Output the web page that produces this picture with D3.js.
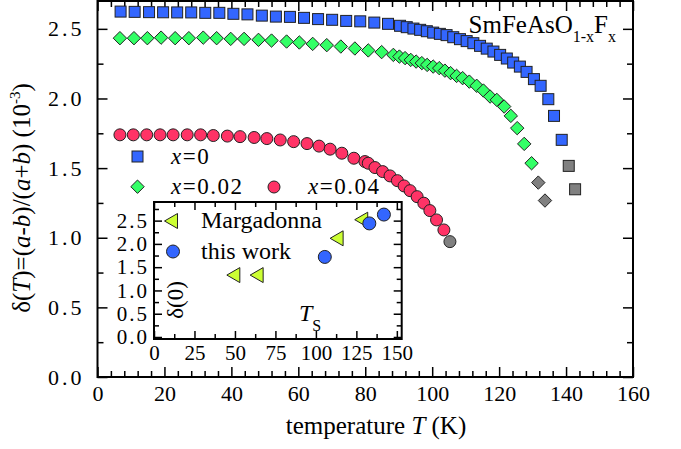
<!DOCTYPE html>
<html>
<head>
<meta charset="utf-8">
<script src="https://d3js.org/d3.v7.min.js"></script>
<style>
  body { margin: 0; background: #fff; }
  svg { font-family: 'Liberation Serif', 'Times New Roman', serif; background: #fff; }
  .axis line { stroke: #000; stroke-width: 1.5px; }
  .axis path { display: none; }
</style>
</head>
<body>
<svg width="681" height="449"></svg>
<script>
// x = 0 (squares)
const x0T = [6.9, 11.1, 15.4, 19.6, 23.8, 28.0, 32.2, 36.4, 40.6, 44.8, 49.1, 53.3, 57.5, 61.7, 65.9, 70.1, 74.3, 78.5, 82.7, 86.8,
  90.4, 92.4, 94.4, 96.4, 98.4, 100.3, 102.3, 104.3, 106.3, 108.3, 110.3, 112.3, 114.3, 116.3, 118.3, 120.3, 122.3, 124.2, 126.2, 128.2,
  130.4, 132.4, 134.7, 136.4, 138.7];
const x0D = [2.624, 2.622, 2.620, 2.619, 2.618, 2.618, 2.615, 2.615, 2.608, 2.604, 2.595, 2.588, 2.586, 2.579, 2.570, 2.565, 2.557, 2.554, 2.545, 2.536,
  2.522, 2.512, 2.502, 2.493, 2.483, 2.473, 2.464, 2.455, 2.440, 2.426, 2.412, 2.397, 2.378, 2.358, 2.337, 2.313, 2.287, 2.258, 2.229, 2.191,
  2.139, 2.091, 1.995, 1.875, 1.703];
const x0TGray = [140.8, 142.7];
const x0DGray = [1.516, 1.348];

// x = 0.02 (diamonds)
const x2T = [6.7, 10.9, 14.9, 19.0, 23.2, 27.3, 31.6, 35.6, 39.8, 43.8, 48.1, 52.0, 56.5, 60.3, 64.3, 68.5, 72.7, 76.9, 80.9, 84.9,
  88.4, 90.2, 91.9, 93.6, 95.2, 96.9, 98.5, 100.3, 102.1, 103.8, 105.5, 107.3, 109.1, 111.1, 113.3, 115.3, 117.3, 119.3, 121.5, 123.5,
  125.4, 127.5, 129.7];
const x2D = [2.433, 2.433, 2.433, 2.437, 2.433, 2.433, 2.437, 2.433, 2.428, 2.428, 2.421, 2.416, 2.409, 2.402, 2.392, 2.383, 2.373, 2.359, 2.345, 2.333,
  2.313, 2.301, 2.290, 2.277, 2.265, 2.254, 2.241, 2.229, 2.218, 2.200, 2.182, 2.162, 2.146, 2.121, 2.091, 2.057, 2.014, 1.990, 1.942, 1.875,
  1.787, 1.674, 1.535];
const x2TGray = [131.7, 133.7];
const x2DGray = [1.396, 1.267];

// x = 0.04 (circles)
const x4T = [6.7, 10.7, 14.7, 18.7, 22.6, 26.8, 30.8, 34.6, 38.8, 42.6, 46.8, 50.6, 54.6, 58.6, 62.6, 66.2, 69.5, 73.0, 76.6, 79.9,
  80.9, 82.9, 85.2, 87.4, 89.6, 91.6, 93.4, 95.5, 97.5, 99.3, 101.3, 103.5];
const x4D = [1.739, 1.739, 1.739, 1.739, 1.739, 1.739, 1.739, 1.734, 1.730, 1.726, 1.720, 1.712, 1.702, 1.690, 1.676, 1.658, 1.636, 1.607, 1.571, 1.547,
  1.535, 1.504, 1.475, 1.444, 1.410, 1.372, 1.338, 1.295, 1.248, 1.195, 1.128, 1.056];
const x4TGray = [105.3];
const x4DGray = [0.972];

// inset: delta(0) vs T_S
const margTs = [49, 63.4, 112.8, 128];
const margD0 = [1.33, 1.33, 2.12, 2.52];
const ourTs = [105.5, 133, 142];
const ourD0 = [1.72, 2.44, 2.63];

const xMajor = [0, 20, 40, 60, 80, 100, 120, 140, 160];
const yMajor = [0, 0.5, 1.0, 1.5, 2.0, 2.5];
const insetXMajor = [0, 25, 50, 75, 100, 125, 150];
const insetYMajor = [0, 0.5, 1.0, 1.5, 2.0, 2.5];

const blue = "#3366ff", green = "#33ff66", red = "#ff3366", gray = "#808080", lime = "#ccff33";
const serif = "'Liberation Serif', 'Times New Roman', serif";

const svg = d3.select("svg");

const x = d3.scaleLinear().domain([0, 160]).range([97.5, 633]);
const y = d3.scaleLinear().domain([0, 2.7]).range([377, 1]);

function drawAxes(g, xs, ys, xMaj, xMin, yMaj, yMin, xFmt, yFmt, big, small, fs, pad, ypad, yspace) {
  const [x0, x1] = xs.range(), [y0, y1] = ys.range();
  const add = (tr, ax) => g.append("g").attr("class", "axis").attr("transform", tr).call(ax)
    .attr("font-family", serif).attr("font-size", fs);
  add("translate(0," + y0 + ")", d3.axisBottom(xs).tickValues(xMaj).tickSize(-big).tickPadding(pad).tickFormat(xFmt));
  add("translate(0," + y0 + ")", d3.axisBottom(xs).tickValues(xMin).tickSize(-small).tickFormat(""));
  add("translate(0," + y1 + ")", d3.axisTop(xs).tickValues(xMaj).tickSize(-big).tickFormat(""));
  add("translate(0," + y1 + ")", d3.axisTop(xs).tickValues(xMin).tickSize(-small).tickFormat(""));
  add("translate(" + x0 + ",0)", d3.axisLeft(ys).tickValues(yMaj).tickSize(-big).tickPadding(ypad).tickFormat(yFmt))
    .selectAll("text").attr("letter-spacing", yspace);
  add("translate(" + x0 + ",0)", d3.axisLeft(ys).tickValues(yMin).tickSize(-small).tickFormat(""));
  add("translate(" + x1 + ",0)", d3.axisRight(ys).tickValues(yMaj).tickSize(-big).tickFormat(""));
  add("translate(" + x1 + ",0)", d3.axisRight(ys).tickValues(yMin).tickSize(-small).tickFormat(""));
  g.append("rect").attr("x", x0).attr("y", y1).attr("width", x1 - x0).attr("height", y0 - y1)
    .attr("fill", "none").attr("stroke", "#000").attr("stroke-width", 2);
}

// main axes
drawAxes(svg.append("g"), x, y, xMajor, d3.range(0, 161, 4).filter(v => v % 20), yMajor,
  [0.25, 0.75, 1.25, 1.75, 2.25], d3.format("d"), d3.format(".1f"), 10, 6, 22, 8, 13, 3);

// markers
function squares(g, ts, ds, fill) {
  g.selectAll(null).data(d3.zip(ts, ds)).enter().append("rect")
    .attr("x", d => x(d[0]) - 5.5).attr("y", d => y(d[1]) - 5.5)
    .attr("width", 11).attr("height", 11)
    .attr("fill", fill).attr("stroke", "#222").attr("stroke-width", 1);
}
function diamonds(g, ts, ds, fill) {
  g.selectAll(null).data(d3.zip(ts, ds)).enter().append("path")
    .attr("d", d => "M" + x(d[0]) + "," + (y(d[1]) - 6.7) + "l6.7,6.7l-6.7,6.7l-6.7,-6.7z")
    .attr("fill", fill).attr("stroke", "#222").attr("stroke-width", 1);
}
function circles(g, xs, ys, ts, ds, fill, r) {
  g.selectAll(null).data(d3.zip(ts, ds)).enter().append("circle")
    .attr("cx", d => xs(d[0])).attr("cy", d => ys(d[1])).attr("r", r)
    .attr("fill", fill).attr("stroke", "#222").attr("stroke-width", 1);
}

const marks = svg.append("g");
squares(marks, x0T, x0D, blue);
squares(marks, x0TGray, x0DGray, gray);
diamonds(marks, x2T, x2D, green);
diamonds(marks, x2TGray, x2DGray, gray);
circles(marks, x, y, x4T, x4D, red, 6);
circles(marks, x, y, x4TGray, x4DGray, gray, 6);

// legend
const leg = svg.append("g").attr("font-size", 23).attr("letter-spacing", 1.5);
leg.append("rect").attr("x", 132).attr("y", 151).attr("width", 11).attr("height", 11)
  .attr("fill", blue).attr("stroke", "#222");
leg.append("path").attr("d", "M137.5,180l6.7,6.7l-6.7,6.7l-6.7,-6.7z").attr("fill", green).attr("stroke", "#222");
leg.append("circle").attr("cx", 274).attr("cy", 187).attr("r", 6).attr("fill", red).attr("stroke", "#222");
function legText(xp, yp, val) {
  const t = leg.append("text").attr("x", xp).attr("y", yp);
  t.append("tspan").attr("font-style", "italic").text("x");
  t.append("tspan").text("=" + val);
}
legText(171, 164, "0");
legText(171, 194, "0.02");
legText(308, 194, "0.04");

// title
const title = svg.append("text").attr("x", 616).attr("y", 33).attr("text-anchor", "end").attr("font-size", 25);
title.append("tspan").text("SmFeAsO");
title.append("tspan").attr("font-size", 16).attr("dy", 9).text("1-x");
title.append("tspan").attr("dy", -9).text("F");
title.append("tspan").attr("font-size", 16).attr("dy", 9).text("x");

// axis titles
const xt = svg.append("text").attr("x", 376).attr("y", 434).attr("text-anchor", "middle").attr("font-size", 25);
xt.append("tspan").text("temperature ");
xt.append("tspan").attr("font-style", "italic").text("T");
xt.append("tspan").text(" (K)");

const yt = svg.append("text").attr("transform", "translate(30,198) rotate(-90)")
  .attr("text-anchor", "middle").attr("font-size", 25);
yt.append("tspan").text("\u03b4(");
yt.append("tspan").attr("font-style", "italic").text("T");
yt.append("tspan").text(")=(");
yt.append("tspan").attr("font-style", "italic").text("a");
yt.append("tspan").text("-");
yt.append("tspan").attr("font-style", "italic").text("b");
yt.append("tspan").text(")/(");
yt.append("tspan").attr("font-style", "italic").text("a");
yt.append("tspan").text("+");
yt.append("tspan").attr("font-style", "italic").text("b");
yt.append("tspan").text(") (10");
yt.append("tspan").attr("font-size", 15).attr("dy", -10).text("-3");
yt.append("tspan").attr("dy", 10).text(")");

// inset
const inset = svg.append("g").attr("class", "inset");
const ix = d3.scaleLinear().domain([0, 153]).range([154, 401.7]);
const iy = d3.scaleLinear().domain([-0.043, 2.9]).range([339, 202]);
inset.append("rect").attr("x", 154).attr("y", 202).attr("width", 247.7).attr("height", 137).attr("fill", "#fff");
drawAxes(inset, ix, iy, insetXMajor, [12.5, 37.5, 62.5, 87.5, 112.5, 137.5], insetYMajor,
  [0.25, 0.75, 1.25, 1.75, 2.25, 2.75], d3.format("d"), d3.format(".1f"), 8, 5, 21, 6, 5, 2);

function triangles(g, pts) {
  g.selectAll(null).data(pts).enter().append("path")
    .attr("d", d => "M" + (d[0] - 6.5) + "," + d[1] + "l13,-7.5v15z")
    .attr("fill", lime).attr("stroke", "#222").attr("stroke-width", 1);
}
triangles(inset, d3.zip(margTs, margD0).map(d => [ix(d[0]), iy(d[1])]));
circles(inset, ix, iy, ourTs, ourD0, blue, 6.5);

triangles(inset, [[171, 221]]);
inset.append("circle").attr("cx", 173).attr("cy", 251.5).attr("r", 6.5).attr("fill", blue).attr("stroke", "#222");
inset.append("text").attr("x", 201).attr("y", 228).attr("font-size", 24).text("Margadonna");
inset.append("text").attr("x", 201).attr("y", 259).attr("font-size", 24).text("this work");

inset.append("text").attr("transform", "translate(183,300) rotate(-90)").attr("text-anchor", "middle")
  .attr("font-size", 23).text("\u03b4(0)");
const ts = inset.append("text").attr("x", 299).attr("y", 321).attr("font-size", 24);
ts.append("tspan").attr("font-style", "italic").text("T");
ts.append("tspan").attr("font-size", 16).attr("dy", 10).text("S");
</script>
</body>
</html>
